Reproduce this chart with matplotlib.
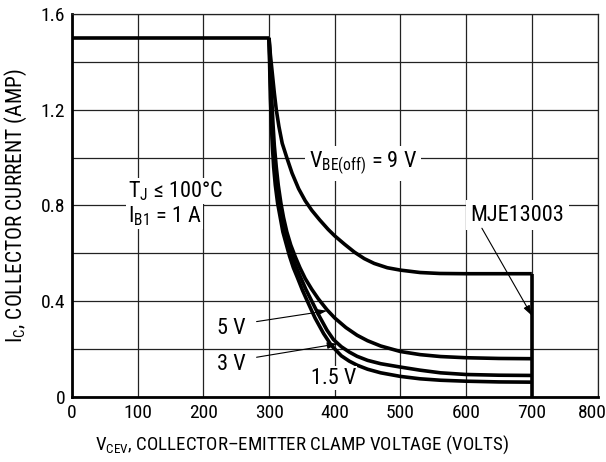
import matplotlib
matplotlib.use("Agg")
import matplotlib.pyplot as plt
from matplotlib import font_manager
import matplotlib.transforms as mtransforms

# pick a condensed sans font if one is installed
entries = font_manager.fontManager.ttflist
main_font = None
stretch = 'normal'
for pref in ['Liberation Sans Narrow', 'Roboto Condensed', 'Open Sans Condensed', 'Noto Sans Condensed', 'DejaVu Sans Condensed']:
    if any(e.name == pref for e in entries):
        main_font = pref
        break
if main_font is None:
    for e in entries:
        if e.name in ('Noto Sans', 'Open Sans', 'Roboto', 'DejaVu Sans') and str(e.stretch) in ('condensed', 'semi-condensed', '75', '87.5', 'semicondensed'):
            main_font = e.name
            stretch = 'condensed'
            break
if main_font is None:
    main_font = 'Liberation Sans'

plt.rcParams['font.family'] = [main_font, 'DejaVu Sans']
plt.rcParams['font.stretch'] = stretch
plt.rcParams['mathtext.fontset'] = 'custom'
plt.rcParams['mathtext.rm'] = main_font
plt.rcParams['mathtext.default'] = 'rm'

# Data
flat_v = [0, 300]
flat_i = [1.5, 1.5]

v_9 = [300, 302, 305, 308, 311, 315, 320, 327, 335, 345, 355, 365, 377, 390, 400, 415, 430, 445, 460, 480, 500, 530, 560, 600, 700]
i_9 = [1.5, 1.43, 1.35, 1.27, 1.2, 1.13, 1.06, 1.0, 0.935, 0.87, 0.82, 0.78, 0.74, 0.70, 0.673, 0.638, 0.605, 0.578, 0.558, 0.54, 0.53, 0.52, 0.516, 0.515, 0.515]

v_5 = [300, 302, 304, 306, 308, 311, 314, 318, 322, 327, 333, 340, 347, 355, 365, 375, 388, 400, 417, 434, 450, 470, 500, 530, 561, 600, 650, 700]
i_5 = [1.5, 1.37, 1.25, 1.14, 1.05, 0.96, 0.885, 0.81, 0.75, 0.69, 0.635, 0.585, 0.54, 0.495, 0.45, 0.41, 0.365, 0.33, 0.29, 0.258, 0.235, 0.213, 0.19, 0.177, 0.169, 0.164, 0.161, 0.16]

v_3 = [300, 301.5, 303, 304.5, 306, 308.5, 311, 315, 319, 324, 329, 335, 341, 348, 356, 366, 377, 388, 398, 410, 422, 434, 450, 470, 500, 530, 561, 600, 650, 700]
i_3 = [1.5, 1.37, 1.25, 1.14, 1.05, 0.96, 0.885, 0.81, 0.75, 0.69, 0.64, 0.59, 0.545, 0.5, 0.45, 0.395, 0.335, 0.28, 0.24, 0.21, 0.188, 0.17, 0.153, 0.139, 0.125, 0.112, 0.101, 0.094, 0.091, 0.09]

v_15 = [300, 301, 302, 303.5, 305, 307, 309.5, 313, 317, 321, 326, 331, 337, 343, 351, 360, 370, 383, 395, 410, 422, 434, 450, 470, 500, 530, 561, 600, 650, 700]
i_15 = [1.5, 1.37, 1.25, 1.14, 1.05, 0.96, 0.885, 0.81, 0.75, 0.69, 0.64, 0.59, 0.54, 0.5, 0.445, 0.39, 0.33, 0.265, 0.215, 0.172, 0.15, 0.133, 0.116, 0.101, 0.086, 0.076, 0.07, 0.066, 0.063, 0.062]

clamp_v = [700, 700]
clamp_i = [0, 0.515]

x_ticks = [0, 100, 200, 300, 400, 500, 600, 700, 800]
y_ticks = [0, 0.4, 0.8, 1.2, 1.6]
y_tick_labels = ['0', '0.4', '0.8', '1.2', '1.6']

fig = plt.figure(figsize=(6.06, 4.62), dpi=100)
ax = fig.add_axes([0.1188, 0.1407, 0.986 - 0.1188, 0.9697 - 0.1407])
ax.set_xlim(0, 800)
ax.set_ylim(0, 1.6)

# grid
for gx in range(0, 801, 100):
    ax.axvline(gx, color='#222222', lw=0.9, zorder=1)
for gy in [0.2 * k for k in range(9)]:
    ax.axhline(gy, color='#222222', lw=0.9, zorder=1)

lw = 2.6
kw = dict(color='black', lw=lw, solid_joinstyle='round', solid_capstyle='butt', zorder=3)
ax.plot(flat_v, flat_i, **kw)
ax.plot(v_9, i_9, **kw)
ax.plot(v_5, i_5, **kw)
ax.plot(v_3, i_3, **kw)
ax.plot(v_15, i_15, **kw)
ax.plot(clamp_v, clamp_i, **kw)

tfs = 14
afs = 16
ax.set_xticks(x_ticks)
ax.set_xticklabels([str(t) for t in x_ticks])
ax.set_yticks(y_ticks)
ax.set_yticklabels(y_tick_labels)
ax.tick_params(length=0, labelsize=tfs, pad=5)
# last x label pulled in slightly so it stays in the figure
lbl = ax.get_xticklabels()[-1]
lbl.set_transform(lbl.get_transform() + mtransforms.ScaledTranslation(-5 / 100, 0, fig.dpi_scale_trans))

for s in ['left', 'bottom']:
    ax.spines[s].set_linewidth(2.0)
for s in ['top', 'right']:
    ax.spines[s].set_linewidth(0.9)
    ax.spines[s].set_color('#222222')

ax.set_xlabel(r'$\mathregular{V_{CEV}}$, COLLECTOR–EMITTER CLAMP VOLTAGE (VOLTS)', fontsize=13.6)
ax.xaxis.set_label_coords(0.438, -0.095)
ax.set_ylabel(r'$\mathregular{I_{C}}$, COLLECTOR CURRENT (AMP)', fontsize=15.5, labelpad=8)

box = dict(facecolor='white', edgecolor='none', pad=3)
box1 = dict(facecolor='white', edgecolor='none', pad=1)
ax.text(443, 0.975, r'$\mathregular{V_{BE(off)}}$ = 9 V', ha='center', va='center', fontsize=afs, bbox=box, zorder=4)
ax.text(678, 0.76, 'MJE13003', ha='center', va='center', fontsize=afs, bbox=box, zorder=4)
ax.text(85, 0.86, r'$\mathregular{T_J}$ ≤ 100°C', ha='left', va='center', fontsize=afs, bbox=box1, zorder=4)
ax.text(85, 0.755, r'$\mathregular{I_{B1}}$ = 1 A', ha='left', va='center', fontsize=afs, bbox=box1, zorder=4)
ax.text(242, 0.288, '5 V', ha='center', va='center', fontsize=afs, bbox=box1, zorder=4)
ax.text(242, 0.134, '3 V', ha='center', va='center', fontsize=afs, bbox=box1, zorder=4)
ax.text(398, 0.079, '1.5 V', ha='center', va='center', fontsize=afs, bbox=box1, zorder=4)

arrow = dict(arrowstyle='-|>,head_length=0.6,head_width=0.2', color='black', lw=0.8, shrinkA=0, shrinkB=0)
ax.annotate('', xy=(700, 0.34), xytext=(624, 0.705), arrowprops=arrow, zorder=5)
ax.annotate('', xy=(388, 0.36), xytext=(281, 0.315), arrowprops=arrow, zorder=5)
ax.annotate('', xy=(404, 0.222), xytext=(281, 0.166), arrowprops=arrow, zorder=5)

fig.savefig('out.png', dpi=100)
